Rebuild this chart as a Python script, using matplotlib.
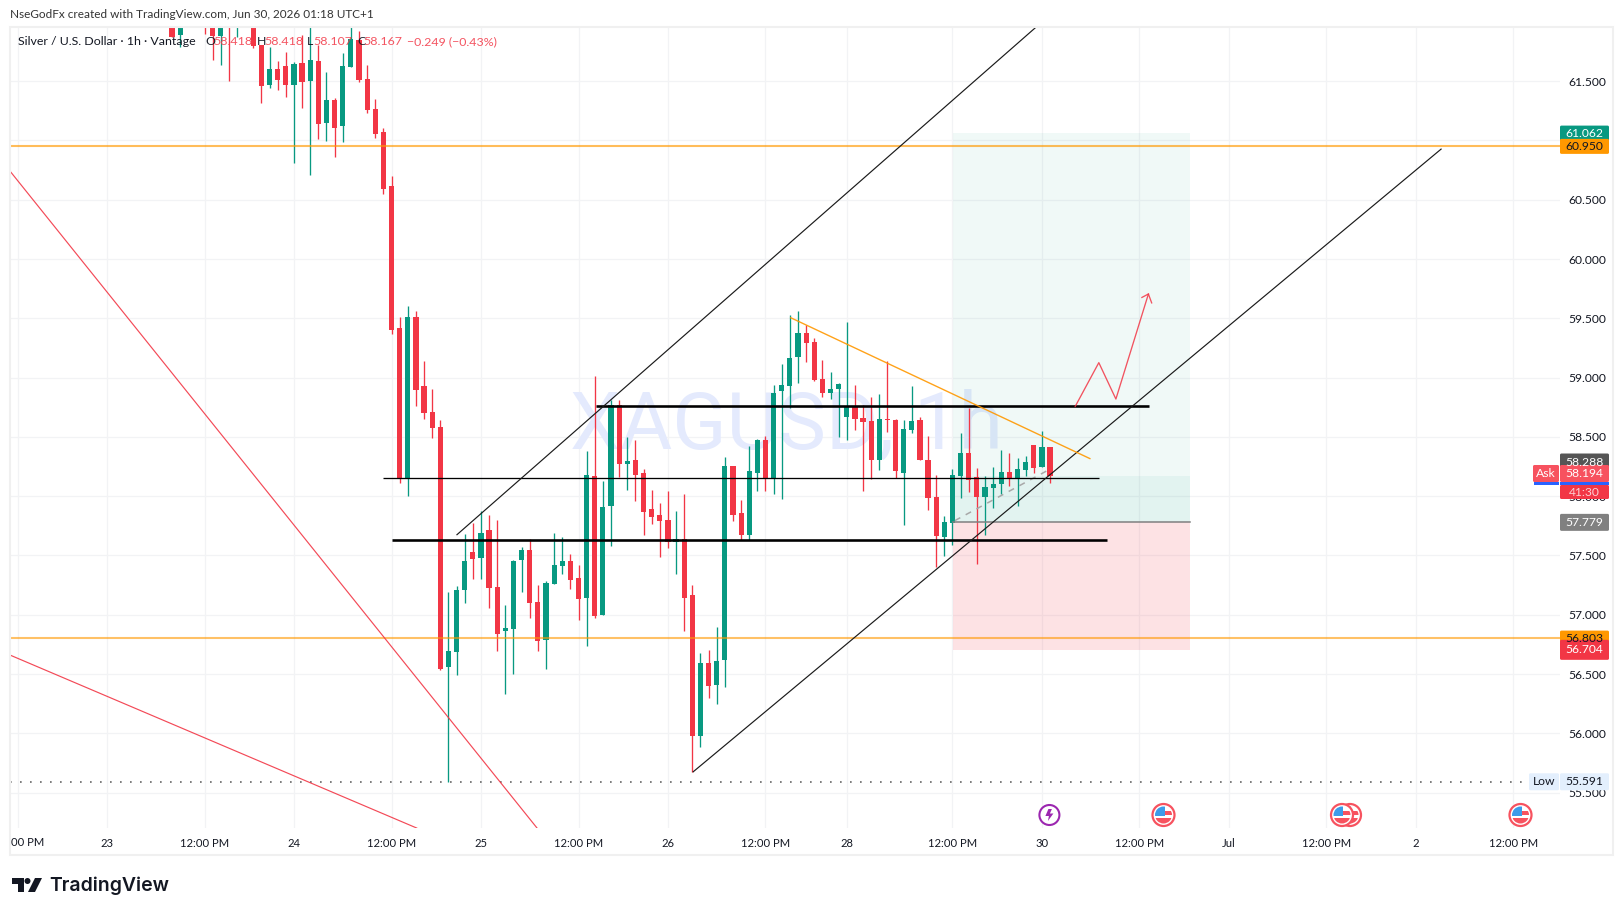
import numpy as np
import matplotlib
matplotlib.use('Agg')
import matplotlib.pyplot as plt
from matplotlib.patches import Rectangle, Circle, Polygon, FancyBboxPatch

plt.rcParams['font.family'] = ['Lato', 'DejaVu Sans']

nan = np.nan
# hourly candles, one entry per bar; nan = bar fully above the visible pane
opens = [62.05, 61.893, nan, nan, 62.30, 62.10, 61.881, 62.20, 62.00, nan,
         62.10, 61.803, 61.468, 61.603, 61.628, 61.468, 61.654, 61.502, 61.671, 61.148,
         61.342, 61.122, 61.620, 61.848, 61.519, 61.266, 61.072, 60.616, 59.415, 58.153,
         59.508, 58.929, 58.710, 58.583, 56.559, 56.686, 57.208, 57.529, 57.478, 57.715,
         57.234, 56.863, 56.880, 57.461, 57.546, 57.107, 56.787, 57.259, 57.411, 57.453,
         57.310, 57.141, 58.170, 56.998, 57.917, 58.769, 58.271, 58.305, 58.195, 57.892,
         57.841, 57.799, 57.613, 57.639, 57.166, 55.977, 56.593, 56.407, 56.618, 58.254,
         57.858, 57.673, 58.196, 58.474, 58.153, 58.887, 58.929, 59.174, 59.376, 59.300,
         58.988, 58.870, 58.904, 58.668, 58.752, 58.659, 58.634, 58.305, 58.651, 58.643,
         58.196, 58.558, 58.643, 58.305, 57.993, 57.656, 57.774, 58.170, 58.364, 58.162,
         57.993, 58.069, 58.103, 58.204, 58.145, 58.221, 58.432, 58.246, 58.418]
highs = [62.15, 62.20, nan, nan, 62.40, 62.20, 62.20, 62.30, 62.30, nan,
         62.20, 61.803, 61.791, 61.673, 61.749, 61.665, 61.890, 62.05, 61.805, 61.581,
         61.358, 61.741, 62.05, 61.924, 61.637, 61.350, 61.105, 60.701, 59.508, 59.604,
         59.561, 59.140, 58.904, 58.642, 57.192, 57.242, 57.681, 57.774, 57.875, 57.841,
         57.799, 57.082, 57.461, 57.571, 57.639, 57.251, 57.284, 57.689, 57.655, 57.512,
         57.419, 58.381, 59.013, 58.128, 58.811, 58.811, 58.499, 58.474, 58.229, 58.052,
         57.942, 58.043, 57.875, 58.018, 57.251, 56.677, 56.702, 56.896, 58.330, 58.254,
         57.968, 58.423, 58.482, 58.508, 58.938, 59.115, 59.528, 59.562, 59.444, 59.334,
         59.149, 59.047, 58.955, 59.469, 58.938, 58.769, 58.837, 58.862, 59.140, 58.651,
         58.643, 58.929, 58.668, 58.508, 58.179, 57.833, 58.229, 58.533, 58.744, 58.238,
         58.170, 58.246, 58.390, 58.364, 58.322, 58.339, 58.432, 58.550, 58.418]
lows = [61.876, 61.791, nan, nan, 61.90, 61.679, 61.637, 61.505, 61.870, nan,
        61.783, 61.319, 61.446, 61.426, 61.370, 60.807, 61.277, 60.709, 61.013, 60.996,
        60.864, 60.987, 61.620, 61.496, 61.235, 61.024, 60.549, 59.371, 58.114, 58.001,
        58.760, 58.651, 58.490, 56.534, 55.591, 56.492, 57.099, 57.301, 57.301, 57.057,
        56.694, 56.331, 56.500, 57.192, 56.972, 56.694, 56.542, 57.259, 57.343, 57.217,
        56.955, 56.736, 56.972, 56.998, 57.580, 58.161, 58.052, 57.959, 57.672, 57.765,
        57.487, 57.563, 57.343, 56.863, 55.676, 55.884, 56.298, 56.247, 56.390, 57.790,
        57.630, 57.631, 58.044, 58.044, 58.018, 57.976, 58.744, 58.955, 59.132, 58.971,
        58.837, 58.820, 58.499, 58.474, 58.558, 58.044, 58.145, 58.221, 58.541, 58.153,
        57.757, 58.533, 58.305, 57.884, 57.405, 57.495, 57.588, 57.985, 58.035, 57.428,
        57.673, 57.900, 58.018, 58.086, 57.917, 58.170, 58.196, 58.246, 58.107]
closes = [61.876, 62.10, nan, nan, 62.05, 61.881, 62.10, 62.00, 62.20, nan,
          61.797, 61.460, 61.603, 61.510, 61.468, 61.645, 61.493, 61.679, 61.139, 61.342,
          61.105, 61.628, 61.853, 61.510, 61.257, 61.055, 60.591, 59.402, 58.145, 59.508,
          58.895, 58.701, 58.575, 56.542, 56.694, 57.208, 57.453, 57.470, 57.689, 57.225,
          56.837, 56.888, 57.453, 57.546, 57.099, 56.778, 57.267, 57.419, 57.453, 57.293,
          57.133, 58.178, 56.989, 57.909, 58.769, 58.271, 58.296, 58.178, 57.866, 57.824,
          57.790, 57.613, 57.639, 57.141, 55.977, 56.593, 56.399, 56.610, 58.254, 57.841,
          57.672, 58.212, 58.474, 58.153, 58.870, 58.938, 59.165, 59.376, 59.292, 58.980,
          58.870, 58.904, 58.946, 58.752, 58.651, 58.626, 58.305, 58.651, 58.645, 58.212,
          58.567, 58.634, 58.305, 57.985, 57.664, 57.782, 58.179, 58.364, 58.137, 57.993,
          58.077, 58.103, 58.204, 58.145, 58.229, 58.288, 58.238, 58.415, 58.167]

price_ticks = [55.5, 56.0, 56.5, 57.0, 57.5, 58.0, 58.5, 59.0, 59.5, 60.0, 60.5, 61.0, 61.5]
time_bars = [-19, -8, 4, 15, 27, 38, 50, 61, 73, 83, 96, 107, 119, 130, 142, 153, 165]
time_labels = ['', '23', '12:00 PM', '24', '12:00 PM', '25', '12:00 PM', '26', '12:00 PM', '28',
               '12:00 PM', '30', '12:00 PM', 'Jul', '12:00 PM', '2', '12:00 PM']

resistance = 60.950
support = 56.803
low_price = 55.591
levels = [(52.2, 120.2, 58.761, 2.6), (26, 114, 58.150, 1.3), (27, 115, 57.634, 2.6)]
upper_channel = ([35.05, 106.3], [57.675, 61.957])
lower_channel = ([64.1, 156.1], [55.675, 60.927])
orange_trend = ([76.1, 112.9], [59.505, 58.317])
red_line_1 = ([-19.93, 44.9], [60.742, 55.201])
red_line_2 = ([-19.93, 30.1], [56.660, 55.201])
arrow_bars = [111.1, 114.0, 116.1, 120.1]
arrow_prices = [58.757, 59.126, 58.819, 59.705]
entry = 57.779
target = 61.062
stop = 56.704
last = 58.167
box_bars = (96.1, 125.2)

RED = '#f23645'
TEAL = '#089981'
ORANGE = '#ff9800'
W, H = 1623, 916
PX_UNIT = 118.57
BAR_PX = 8.13


def py(p):
    return 733.3 - (p - 56) * PX_UNIT


def bx(i):
    return 172 + i * BAR_PX


fig = plt.figure(figsize=(W / 100, H / 100), dpi=100, facecolor='white')
ax = fig.add_axes([10 / W, 1 - 828 / H, 1550 / W, 801 / H])
ax.set_xlim((10 - 172) / BAR_PX, (1560 - 172) / BAR_PX)
ax.set_ylim(56 + (733.3 - 828) / PX_UNIT, 56 + (733.3 - 27) / PX_UNIT)
for s in ax.spines.values():
    s.set_visible(False)
ax.set_axisbelow(True)
ax.grid(color='#f2f3f5', lw=0.9)
ax.yaxis.tick_right()
ax.set_yticks(price_ticks)
ax.set_yticklabels(['%.3f' % p for p in price_ticks], fontsize=8.7, color='#131722')
ax.set_xticks(time_bars)
ax.set_xticklabels(time_labels, fontsize=8.1, color='#131722')
ax.tick_params(axis='both', length=0)
ax.tick_params(axis='y', pad=6)
ax.tick_params(axis='x', pad=7)

ax.text(75.6, 58.59, 'XAGUSD, 1h', fontsize=57.5, color='#e4eafd', ha='center', va='center',
        family='Roboto', zorder=1)

# position tool
ax.fill_between(box_bars, entry, target, color=TEAL, alpha=0.06, lw=0, zorder=2)
ax.fill_between(box_bars, entry, last, color=TEAL, alpha=0.06, lw=0, zorder=2)
ax.fill_between(box_bars, stop, entry, color=RED, alpha=0.14, lw=0, zorder=2)

# candles
x = np.arange(len(opens))
o, h, l, c = map(np.array, (opens, highs, lows, closes))
colors = [RED if b < a else TEAL for a, b in zip(o, c)]
ax.vlines(x, l, h, colors=colors, lw=0.95, zorder=3)
ax.bar(x, np.abs(c - o), bottom=np.minimum(o, c), width=5.2 / BAR_PX, color=colors, lw=0, zorder=3)

ax.plot(box_bars, [entry, entry], color='#808080', lw=1.1, zorder=4)
ax.plot([96.3, 107.7], [entry + 0.015, last + 0.05], color='#a8a8a8', lw=1.1, ls=(0, (4, 4)), zorder=4)

ax.axhline(resistance, color=ORANGE, alpha=0.65, lw=1.5, zorder=4)
ax.axhline(support, color=ORANGE, alpha=0.6, lw=1.5, zorder=4)
ax.axhline(low_price, color='#666666', lw=1.2, ls=(0, (1, 5)), zorder=4, xmax=1515 / 1550)

for x0, x1, p, width in levels:
    ax.plot([x0, x1], [p, p], color='black', lw=width * 0.72, solid_capstyle='butt', zorder=5)
for xs, ys in (upper_channel, lower_channel):
    ax.plot(xs, ys, color='#1a1a1a', lw=0.85, zorder=5)
ax.plot(*orange_trend, color=ORANGE, lw=1.0, alpha=0.9, zorder=5)
for xs, ys in (red_line_1, red_line_2):
    ax.plot(xs, ys, color=RED, lw=0.85, alpha=0.9, zorder=5)
ax.plot(arrow_bars, arrow_prices, color=RED, lw=0.95, alpha=0.85, zorder=5)
ax.plot([119.3, arrow_bars[-1], 120.5], [59.676, arrow_prices[-1], 59.63], color=RED, lw=0.95, alpha=0.85, zorder=5)

# overlay in pixels for the chrome around the pane
ui = fig.add_axes([0, 0, 1, 1], zorder=10)
ui.set_xlim(0, W)
ui.set_ylim(H, 0)
ui.axis('off')
ui.add_patch(Rectangle((10, 27), 1603, 828, fill=False, ec='#f0f0f0', lw=1.5))


def badge(y, txt, bg, fg='white', x0=1560, x1=1609, h=17):
    ui.add_patch(FancyBboxPatch((x0, y - h / 2), x1 - x0, h, boxstyle='round,pad=0,rounding_size=1.5',
                                fc=bg, ec='none'))
    ui.text((x0 + x1) / 2, y, txt, color=fg, fontsize=8.7, ha='center', va='center')


badge(py(target), '61.062', TEAL, h=15)
badge(py(resistance), '60.950', ORANGE, fg='#131722', h=15)
badge(py(58.288), '58.288', '#555555', h=17)
badge(473.5, '58.194', '#f7525f')
ui.add_patch(Rectangle((1560, 482), 49, 3, fc='#2962ff', ec='none'))
badge(492, '41:30', RED, fg='#fbd0d3', h=14)
badge(473.5, 'Ask', '#f7525f', x0=1533, x1=1559)
ui.add_patch(Rectangle((1534, 482), 25, 2.5, fc='#2962ff', ec='none'))
badge(py(entry), '57.779', '#808080')
badge(py(support), '56.803', ORANGE, fg='#131722', h=15)
badge(py(stop), '56.704', RED, h=20)
badge(py(low_price), 'Low', '#e3effd', fg='#131722', x0=1529, x1=1559)
badge(py(low_price), '55.591', '#e3effd', fg='#131722')

ui.text(11, 842, '00 PM', fontsize=8.1, color='#131722', va='center')
ui.text(10, 15, 'NseGodFx created with TradingView.com, Jun 30, 2026 01:18 UTC+1',
        fontsize=8.5, color='#333333', va='center')
ui.text(18, 41.5, 'Silver / U.S. Dollar · 1h · Vantage', fontsize=8.9, color='#131722', va='center')
for px, txt, col in [(205, 'O', '#131722'), (213, '58.418', RED), (257, 'H', '#131722'), (264, '58.418', RED),
                     (307, 'L', '#131722'), (313, '58.107', RED), (357, 'C', '#131722'), (363, '58.167', RED),
                     (407, '−0.249 (−0.43%)', RED)]:
    ui.text(px, 41.5, txt, fontsize=8.9, color=col, va='center', alpha=0.95 if col != RED else 0.85)

# economic calendar icons
bolt = [(-1, -6), (-4, 1), (-0.5, 1), (-1.5, 6), (4, -1.5), (0.5, -1.5), (2.5, -6)]
ui.add_patch(Circle((bx(107) + 7.5, 815), 10, fc='white', ec='#9c27b0', lw=1.5))
ui.add_patch(Polygon([(bx(107) + 7.5 + a, 815 + b) for a, b in bolt], fc='#9c27b0', ec='none'))


def flag(cx, cy=815):
    ring = Circle((cx, cy), 11, fc='white', ec='#f7525f', lw=1.6)
    ui.add_patch(ring)
    clip = Circle((cx, cy), 8.5, transform=ui.transData)
    for rect in [Rectangle((cx - 9, cy - 9), 18, 18, fc='white', ec='none'),
                 Rectangle((cx, cy - 4), 9, 4, fc='#f7525f', ec='none'),
                 Rectangle((cx - 9, cy + 3), 18, 6, fc='#f7525f', ec='none'),
                 Rectangle((cx - 9, cy - 9), 10, 10, fc='#3d9be9', ec='none')]:
        ui.add_patch(rect)
        rect.set_clip_path(clip)


flag(1350)
flag(1342)
flag(1163.5)
flag(1520.5)

# logo
ui.add_patch(Polygon([(12, 878), (24, 878), (24, 892), (18, 892), (18, 884), (12, 884)], fc='#131722', ec='none'))
ui.add_patch(Circle((27.5, 881), 3, fc='#131722', ec='none'))
ui.add_patch(Polygon([(35, 878), (42, 878), (35, 892), (28, 892)], fc='#131722', ec='none'))
ui.text(49, 886, 'TradingView', fontsize=14, family='Inter', weight='semibold', color='#131722', va='center')

fig.savefig('out.png', dpi=100)
